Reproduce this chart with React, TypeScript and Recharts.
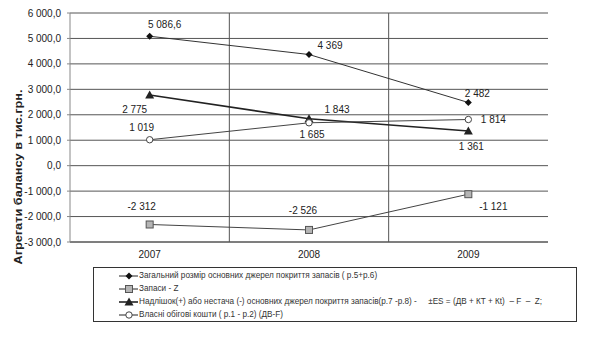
import { LineChart, Line, XAxis, YAxis, CartesianGrid, LabelList } from "recharts";

const years = ["2007", "2008", "2009"];
const totalSources = [5086.6, 4369, 2482];
const inventories = [-2312, -2526, -1121];
const surplus = [2775, 1843, 1361];
const ownCapital = [1019, 1685, 1814];
const yTicks = [-3000, -2000, -1000, 0, 1000, 2000, 3000, 4000, 5000, 6000];

const legendNames = [
  "Загальний розмір основних джерел покриття запасів ( р.5+р.6)",
  "Запаси - Z",
  "Надлішок(+) або нестача (-) основних джерел покриття запасів(р.7 -р.8) -     ±ES = (ДВ + КТ + Кt)  – F  –  Z;",
  "Власні обігові кошти ( р.1 - р.2) (ДВ-F)",
];

const data = years.map((year, i) => ({
  year,
  total: totalSources[i],
  inv: inventories[i],
  surplus: surplus[i],
  own: ownCapital[i],
}));

const FONT = "'Liberation Sans', Arial, sans-serif";
const INK = "#222";

function groups(v: number, decimals: number) {
  const s = Math.abs(v).toFixed(decimals);
  const [int, dec] = s.split(".");
  const g = int.replace(/\B(?=(\d{3})+(?!\d))/g, " ");
  return (v < 0 ? "-" : "") + g + (dec ? "," + dec : "");
}
const tickFmt = (v: number) => groups(v, 1);
const labelFmt = (v: number) => groups(v, Number.isInteger(v) ? 0 : 1);

type Kind = "diamond" | "square" | "triangle" | "circle";

function Marker({ kind, cx, cy }: { kind: Kind; cx: number; cy: number }) {
  if (kind === "diamond")
    return <path d={`M${cx},${cy - 3.5}L${cx + 3.5},${cy}L${cx},${cy + 3.5}L${cx - 3.5},${cy}Z`} fill="#111" />;
  if (kind === "square")
    return <rect x={cx - 3.5} y={cy - 3.5} width={7} height={7} fill="#b5b5b5" stroke="#555" strokeWidth={1} />;
  if (kind === "triangle")
    return <path d={`M${cx},${cy - 4.5}L${cx + 4.5},${cy + 3.5}L${cx - 4.5},${cy + 3.5}Z`} fill="#222" />;
  return <circle cx={cx} cy={cy} r={3.2} fill="#fff" stroke="#444" strokeWidth={1} />;
}

const dotFor = (kind: Kind) => (p: any) =>
  <Marker key={`${kind}-${p.index}`} kind={kind} cx={p.cx} cy={p.cy} />;

// label offsets from the point, per year
const labelOffsets: Record<string, [number, number][]> = {
  total: [[15, -12], [21, -9], [9, -9]],
  inv: [[-8, -18], [-6, -19], [25, 12]],
  surplus: [[-15, 14], [28, -9], [3, 15]],
  own: [[-8, -12], [3, 12], [25, 0]],
};

const labelFor = (key: string) => (p: any) => {
  const [dx, dy] = labelOffsets[key][p.index] || [0, 0];
  return (
    <text
      key={`${key}-l-${p.index}`}
      x={p.x + dx}
      y={p.y + dy}
      textAnchor="middle"
      dominantBaseline="central"
      fontSize={10}
      fill={INK}
      fontFamily={FONT}
    >
      {labelFmt(p.value)}
    </text>
  );
};

const series: { key: string; kind: Kind; width: number; stroke: string }[] = [
  { key: "total", kind: "diamond", width: 1, stroke: "#333" },
  { key: "inv", kind: "square", width: 1, stroke: "#444" },
  { key: "surplus", kind: "triangle", width: 1.6, stroke: "#222" },
  { key: "own", kind: "circle", width: 1, stroke: "#444" },
];

function LegendIcon({ kind, width }: { kind: Kind; width: number }) {
  return (
    <svg width={19} height={10} style={{ display: "block", marginRight: 1, flexShrink: 0 }}>
      <line x1={0} y1={5} x2={19} y2={5} stroke="#222" strokeWidth={width} />
      <Marker kind={kind} cx={10} cy={5} />
    </svg>
  );
}

export default function App() {
  return (
    <div style={{ position: "absolute", left: 0, top: 0, width: 596, height: 350, background: "#fff" }}>
      <LineChart width={596} height={350} data={data} margin={{ top: 13, right: 48, left: 0, bottom: 88 }}>
        <CartesianGrid
          stroke="#555"
          verticalCoordinatesGenerator={({ offset }: any) =>
            years.slice(1).map((_, i) => offset.left + (offset.width * (i + 1)) / years.length)
          }
        />
        <XAxis
          dataKey="year"
          scale="band"
          height={20}
          tickSize={6}
          tickMargin={3}
          tickLine={false}
          axisLine={{ stroke: "#555" }}
          tick={{ fontSize: 10, fill: INK, fontFamily: FONT }}
        />
        <YAxis
          width={70}
          domain={[-3000, 6000]}
          ticks={yTicks}
          interval={0}
          tickFormatter={tickFmt}
          tickSize={3}
          tickMargin={6}
          axisLine={{ stroke: "#888" }}
          tickLine={{ stroke: "#888" }}
          tick={{ fontSize: 10, fill: INK, fontFamily: FONT }}
          label={{
            content: () => (
              <text
                x={18}
                y={177}
                transform="rotate(-90 18 177)"
                textAnchor="middle"
                dominantBaseline="central"
                fontSize={11.5}
                fontWeight="bold"
                fill={INK}
                fontFamily={FONT}
                textLength={175}
                lengthAdjust="spacingAndGlyphs"
              >
                Агрегати балансу в тис.грн.
              </text>
            ),
          }}
        />
        <YAxis
          yAxisId="frame"
          orientation="right"
          width={0}
          domain={[-3000, 6000]}
          tick={false}
          tickLine={false}
          axisLine={{ stroke: "#bbb" }}
        />
        {series.map((s) => (
          <Line
            key={s.key}
            dataKey={s.key}
            stroke={s.stroke}
            strokeWidth={s.width}
            dot={dotFor(s.kind)}
            activeDot={false}
            isAnimationActive={false}
          >
            <LabelList dataKey={s.key} content={labelFor(s.key)} />
          </Line>
        ))}
      </LineChart>
      <div
        style={{
          position: "absolute",
          left: 93,
          top: 267,
          width: 482,
          height: 52,
          border: "1px solid #333",
          fontFamily: FONT,
          fontSize: 8.2,
          color: "#333",
          paddingTop: 1,
          boxSizing: "content-box",
          background: "#fff",
        }}
      >
        {series.map((s, i) => (
          <div
            key={s.key}
            style={{ display: "flex", alignItems: "center", height: 13, paddingLeft: 25, whiteSpace: "pre" }}
          >
            <LegendIcon kind={s.kind} width={s.width} />
            <span>{legendNames[i]}</span>
          </div>
        ))}
      </div>
    </div>
  );
}
